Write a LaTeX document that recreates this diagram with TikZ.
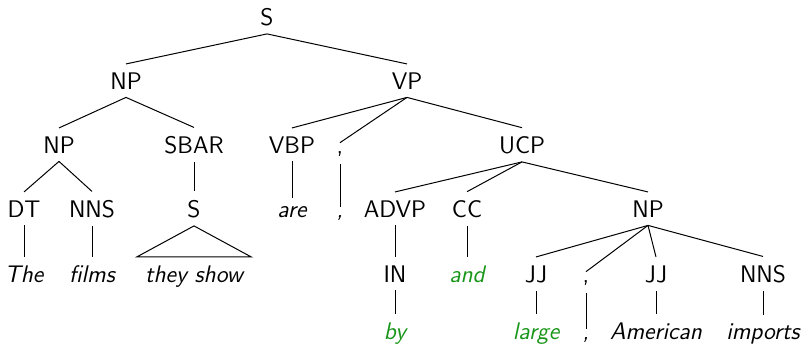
\documentclass[tikz,border=0pt]{standalone}
\usepackage{fontspec}
\usetikzlibrary{calc}
\definecolor{leafgreen}{RGB}{25,150,25}
\begin{document}
\begin{tikzpicture}[x=0.5pt,y=-0.5pt,
  every node/.style={inner sep=4pt,anchor=base,font=\fontsize{12}{14}\sffamily},
  tag/.style={},
  word/.style={font=\fontsize{12}{14}\sffamily\itshape},
  hl/.style={word,text=leafgreen},
  edge/.style={line width=0.5pt}]
\useasboundingbox (0,0) rectangle (802,349);
% row 0
\node[tag] (s0) at (267,25) {S};
% row 1
\node[tag] (np1) at (126,89) {NP};
\node[tag] (vp) at (407,89) {VP};
% row 2
\node[tag] (np2) at (59,153) {NP};
\node[tag] (sbar) at (194,153) {SBAR};
\node[tag] (vbp) at (292,153) {VBP};
\node[tag] (cm1) at (340,153) {,};
\node[tag] (ucp) at (522,153) {UCP};
% row 3
\node[tag] (dt) at (24,217) {DT};
\node[tag] (nns1) at (92,217) {NNS};
\node[tag] (s2) at (194,217) {S};
\node[word] (are) at (292,217) {are};
\node[word] (cm2) at (340,217) {,};
\node[tag] (advp) at (395,217) {ADVP};
\node[tag] (cc) at (467,217) {CC};
\node[tag] (np3) at (648,217) {NP};
% row 4
\node[word] (the) at (24,282) {The};
\node[word] (films) at (92,282) {films};
\node[word] (ts) at (194,282) {they show};
\node[tag] (in) at (395,282) {IN};
\node[hl] (and) at (467,282) {and};
\node[tag] (jj1) at (536,282) {JJ};
\node[tag] (cm3) at (586,282) {,};
\node[tag] (jj2) at (656,282) {JJ};
\node[tag] (nns2) at (763,282) {NNS};
% row 5
\node[hl] (by) at (395,339) {by};
\node[hl] (large) at (536,339) {large};
\node[word] (cm4) at (586,339) {,};
\node[word] (amer) at (656,339) {American};
\node[word] (imp) at (763,339) {imports};
% branching edges
\foreach \p/\c in {s0/np1,s0/vp,np1/np2,np1/sbar,vp/vbp,vp/cm1,vp/ucp,
  np2/dt,np2/nns1,ucp/advp,ucp/cc,ucp/np3,
  np3/jj1,np3/cm3,np3/jj2,np3/nns2}
  \draw[edge] (\p.south) -- (\c.north);
% unary edges, kept vertical
\foreach \p/\c in {sbar/s2,vbp/are,cm1/cm2,dt/the,nns1/films,advp/in,cc/and,
  in/by,jj1/large,cm3/cm4,jj2/amer,nns2/imp}
  \draw[edge] (\p.south) -- (\p.south |- \c.north);
% collapsed constituent
\draw[edge] (s2.south) -- (ts.north west) -- (ts.north east) -- cycle;
\end{tikzpicture}
\end{document}
